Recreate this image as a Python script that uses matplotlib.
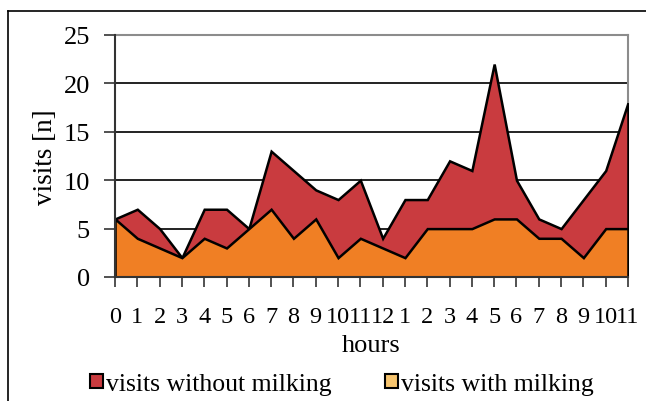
import matplotlib
matplotlib.use("Agg")
import matplotlib.pyplot as plt
from matplotlib.lines import Line2D
from matplotlib.patches import Patch

plt.rcParams['font.family'] = ['Liberation Serif', 'DejaVu Serif']

hours = ["0", "1", "2", "3", "4", "5", "6", "7", "8", "9", "10", "11",
         "12", "1", "2", "3", "4", "5", "6", "7", "8", "9", "10", "11"]
without_milking = [6, 7, 5, 2, 7, 7, 5, 13, 11, 9, 8, 10,
                   4, 8, 8, 12, 11, 22, 10, 6, 5, 8, 11, 18]
with_milking = [6, 4, 3, 2, 4, 3, 5, 7, 4, 6, 2, 4,
                3, 2, 5, 5, 5, 6, 6, 4, 4, 2, 5, 5]
y_ticks = [0, 5, 10, 15, 20, 25]

RED = "#c93b3f"
ORANGE = "#f07f24"
ORANGE_KEY = "#f6c46e"

W, H = 646, 402
fig = plt.figure(figsize=(W / 100, H / 100), dpi=100)
ax = fig.add_axes([115 / W, 1 - 278 / H, (628 - 115) / W, (278 - 36) / H])

x = list(range(len(hours)))
ax.fill_between(x, 0, without_milking, facecolor=RED, edgecolor="black",
                linewidth=1.8, joinstyle="miter", zorder=3)
ax.fill_between(x, 0, with_milking, facecolor=ORANGE, edgecolor="black",
                linewidth=1.8, joinstyle="miter", zorder=4)

ax.set_xlim(0, len(hours) - 1)
ax.set_ylim(0, 25)
ax.set_yticks(y_ticks)
ax.set_yticklabels([str(v) for v in y_ticks], fontsize=19)
ax.set_xticks(x)
ax.set_xticklabels(hours, fontsize=17.5)

for v in y_ticks[1:-1]:
    ax.axhline(v, color="#222222", linewidth=1.4, zorder=1)

for side in ("top", "right"):
    ax.spines[side].set_color("#8c8c8c")
    ax.spines[side].set_linewidth(1.5)
for side in ("left", "bottom"):
    ax.spines[side].set_color("#333333")
    ax.spines[side].set_linewidth(1.5)
    ax.spines[side].set_zorder(5)

ax.tick_params(axis="y", direction="out", length=8, width=1.2, color="#333333", pad=10)
ax.tick_params(axis="x", direction="out", length=7, width=1.2, color="#333333", pad=14)

ax.set_xlabel("hours", fontsize=19, labelpad=5)
ax.set_ylabel("visits [n]", fontsize=19.5, labelpad=4)

handles = [Patch(facecolor=RED, edgecolor="black", linewidth=1.5),
           Patch(facecolor=ORANGE_KEY, edgecolor="black", linewidth=1.5)]
fig.legend(handles, ["visits without milking", "visits with milking"],
           loc="center", bbox_to_anchor=(342 / W, 1 - 385 / H), ncol=2,
           frameon=False, fontsize=18.5, handlelength=0.5, handleheight=0.5,
           handletextpad=0.12, columnspacing=2.1, borderaxespad=0)

# outer frame (top and left edges)
fig.add_artist(Line2D([8 / W, 1.0], [1 - 12 / H, 1 - 12 / H],
                      transform=fig.transFigure, color="black", linewidth=1.2))
fig.add_artist(Line2D([8 / W, 8 / W], [1 - 12 / H, 0.0],
                      transform=fig.transFigure, color="black", linewidth=1.2))

fig.savefig("out.png", dpi=100)
